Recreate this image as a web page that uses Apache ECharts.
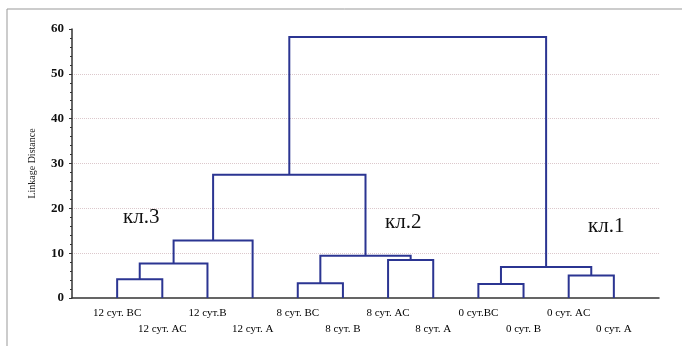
<!DOCTYPE html>
<html>
<head>
<meta charset="utf-8">
<script src="https://cdn.jsdelivr.net/npm/echarts@6/dist/echarts.min.js"></script>
<style>
html,body{margin:0;padding:0;background:#fff;}
#main{width:682px;height:346px;}
</style>
</head>
<body>
<div id="main"></div>
<script>
// листья дендрограммы, слева направо
var leaves = ['12 сут. BC', '12 сут. AC', '12 сут.B', '12 сут. A', '8 сут. BC', '8 сут. B',
              '8 сут. AC', '8 сут. A', '0 сут.BC', '0 сут. B', '0 сут. AC', '0 сут. A'];
// объединения: индексы 0..11 - листья, 12.. - узлы по порядку
var mergeLeft   = [0, 12, 13, 4, 6, 15, 14, 8, 10, 19, 18];
var mergeRight  = [1, 2, 3, 5, 7, 16, 17, 9, 11, 20, 21];
var mergeHeight = [4.2, 7.7, 12.8, 3.3, 8.5, 9.4, 27.5, 3.1, 5.0, 6.9, 58.2];
var yTicks = [0, 10, 20, 30, 40, 50, 60];
var clusterNames = ['кл.3', 'кл.2', 'кл.1'];

// координаты узлов
var nodeX = [], nodeY = [];
leaves.forEach(function (l, i) { nodeX.push(i + 1); nodeY.push(0); });
var links = [];
mergeHeight.forEach(function (h, i) {
    var a = mergeLeft[i], b = mergeRight[i];
    links.push([nodeX[a], nodeY[a], nodeX[b], nodeY[b], h]);
    nodeX.push((nodeX[a] + nodeX[b]) / 2);
    nodeY.push(h);
});

var myChart = echarts.init(document.getElementById('main'));
var serif = 'Liberation Serif';
var gridColor = '#dcc8cc';

var option = {
    animation: false,
    grid: { left: 72, right: 23, top: 29, bottom: 48 },
    xAxis: {
        type: 'value',
        min: 0,
        max: leaves.length + 1,
        interval: 1,
        axisLine: { lineStyle: { color: '#333', width: 1.5 } },
        axisTick: { show: false },
        splitLine: { show: false },
        axisLabel: {
            margin: 7,
            fontFamily: serif,
            fontSize: 11,
            color: '#000',
            lineHeight: 16,
            formatter: function (v) {
                var i = Math.round(v) - 1;
                if (i < 0 || i >= leaves.length) return '';
                return (i % 2 === 0 ? '' : '\n') + leaves[i];
            }
        }
    },
    yAxis: {
        type: 'value',
        min: yTicks[0],
        max: yTicks[yTicks.length - 1],
        interval: 10,
        name: 'Linkage Distance',
        nameLocation: 'middle',
        nameGap: 35,
        nameTextStyle: { fontFamily: serif, fontSize: 10, color: '#222' },
        axisLine: { show: true, lineStyle: { color: '#333', width: 1.5 } },
        axisTick: { show: true, length: 3, lineStyle: { color: '#333' } },
        minorTick: { show: true, splitNumber: 5, length: 2, lineStyle: { color: '#333' } },
        axisLabel: { margin: 8, fontFamily: serif, fontWeight: 'bold', fontSize: 13, color: '#111' },
        splitLine: {
            show: true,
            lineStyle: {
                type: 'dotted',
                width: 1,
                color: ['rgba(0,0,0,0)', gridColor, gridColor, gridColor, gridColor, gridColor, 'rgba(0,0,0,0)']
            }
        }
    },
    graphic: [
        { type: 'line', shape: { x1: 7, y1: 9, x2: 682, y2: 9 }, style: { stroke: '#999', lineWidth: 1 } },
        { type: 'line', shape: { x1: 7, y1: 9, x2: 7, y2: 346 }, style: { stroke: '#999', lineWidth: 1 } },
        { type: 'text', left: 123, top: 207, style: { text: clusterNames[0], font: '21px ' + serif, fill: '#111' } },
        { type: 'text', left: 385, top: 212, style: { text: clusterNames[1], font: '21px ' + serif, fill: '#111' } },
        { type: 'text', left: 588, top: 216, style: { text: clusterNames[2], font: '21px ' + serif, fill: '#111' } }
    ],
    series: [{
        type: 'custom',
        data: links,
        renderItem: function (params, api) {
            var x1 = api.value(0), y1 = api.value(1), x2 = api.value(2), y2 = api.value(3), h = api.value(4);
            return {
                type: 'polyline',
                shape: { points: [api.coord([x1, y1]), api.coord([x1, h]), api.coord([x2, h]), api.coord([x2, y2])] },
                style: { stroke: '#2b3592', lineWidth: 2, fill: null }
            };
        }
    }]
};
myChart.setOption(option);
</script>
</body>
</html>
